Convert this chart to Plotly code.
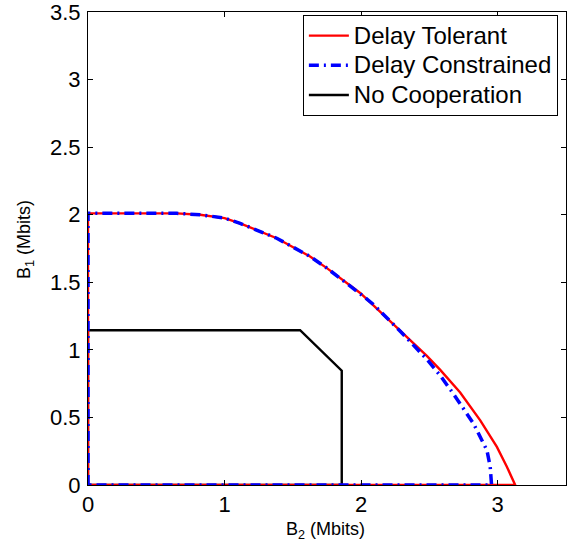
import plotly.graph_objects as go

# Delay Tolerant region boundary
tol_x = [0, 0, 0.4, 0.65, 0.82, 1.0, 1.114, 1.382, 1.626, 1.749, 1.993, 2.237, 2.481, 2.579, 2.725, 2.872, 2.994, 3.067, 3.128, 0]
tol_y = [0, 2.01, 2.01, 2.01, 2.0, 1.975, 1.936, 1.826, 1.691, 1.605, 1.421, 1.189, 0.956, 0.852, 0.685, 0.478, 0.282, 0.135, 0, 0]

# Delay Constrained region boundary
con_x = [0, 0, 0.4, 0.65, 0.82, 1.0, 1.114, 1.382, 1.626, 1.749, 1.993, 2.09, 2.297, 2.481, 2.579, 2.676, 2.823, 2.921, 2.945, 2.955, 0]
con_y = [0, 2.01, 2.01, 2.01, 2.0, 1.975, 1.936, 1.826, 1.691, 1.605, 1.415, 1.336, 1.127, 0.93, 0.81, 0.674, 0.454, 0.257, 0.135, 0, 0]

# No Cooperation region boundary
noc_x = [0, 0, 1.553, 1.858, 1.858, 0]
noc_y = [0, 1.145, 1.145, 0.846, 0, 0]

x_ticks = [0, 1, 2, 3]
y_ticks = [0, 0.5, 1, 1.5, 2, 2.5, 3, 3.5]
x_tick_text = ["0", "1", "2", "3"]
y_tick_text = ["0", "0.5", "1", "1.5", "2", "2.5", "3", "3.5"]

series_names = ["Delay Tolerant", "Delay Constrained", "No Cooperation"]

FONT = "Liberation Sans, Arial, Helvetica"


def legend_label(s):
    return '<span style="font-size:24px">' + s + '</span>'


fig = go.Figure()
fig.add_trace(go.Scatter(x=noc_x, y=noc_y, mode="lines", name=legend_label(series_names[2]),
                         line=dict(color="black", width=2.4), legendrank=3))
fig.add_trace(go.Scatter(x=tol_x, y=tol_y, mode="lines", name=legend_label(series_names[0]),
                         line=dict(color="red", width=2.4), legendrank=1))
fig.add_trace(go.Scatter(x=con_x, y=con_y, mode="lines", name=legend_label(series_names[1]),
                         line=dict(color="blue", width=3.5, dash="10px,5px,2px,5px"), legendrank=2))

axis_common = dict(showgrid=False, zeroline=False, showline=True, linecolor="black",
                   linewidth=1, mirror="ticks", ticks="inside", ticklen=5,
                   tickcolor="black", automargin=False, ticklabeloverflow="allow",
                   tickfont=dict(family=FONT, size=22, color="black"))

fig.update_layout(
    width=570, height=548,
    margin=dict(l=88, r=4, t=12, b=63),
    plot_bgcolor="white", paper_bgcolor="white",
    xaxis=dict(range=[0, 3.5], tickvals=x_ticks, ticktext=x_tick_text,
               ticklabelstandoff=0, **axis_common),
    yaxis=dict(range=[0, 3.5], tickvals=y_ticks, ticktext=y_tick_text,
               ticklabelstandoff=2, **axis_common),
    legend=dict(x=0.983, y=0.994, xanchor="right", yanchor="top",
                bordercolor="black", borderwidth=1, bgcolor="white",
                font=dict(family=FONT, size=20.5, color="black"),
                tracegroupgap=0, itemwidth=40),
    showlegend=True,
    annotations=[
        dict(text="B<sub>2</sub> (Mbits)", xref="paper", yref="paper",
             x=0.497, y=-0.097, xanchor="center", yanchor="middle", showarrow=False,
             font=dict(family=FONT, size=18, color="black")),
        dict(text="B<sub>1</sub> (Mbits)", xref="paper", yref="paper",
             x=-0.132, y=0.52, xanchor="center", yanchor="middle", showarrow=False,
             textangle=-90, font=dict(family=FONT, size=18, color="black")),
    ],
)

fig.write_html("out.html", config={"displayModeBar": False},
               post_script="document.body.style.margin='0';document.body.style.overflow='hidden';")
